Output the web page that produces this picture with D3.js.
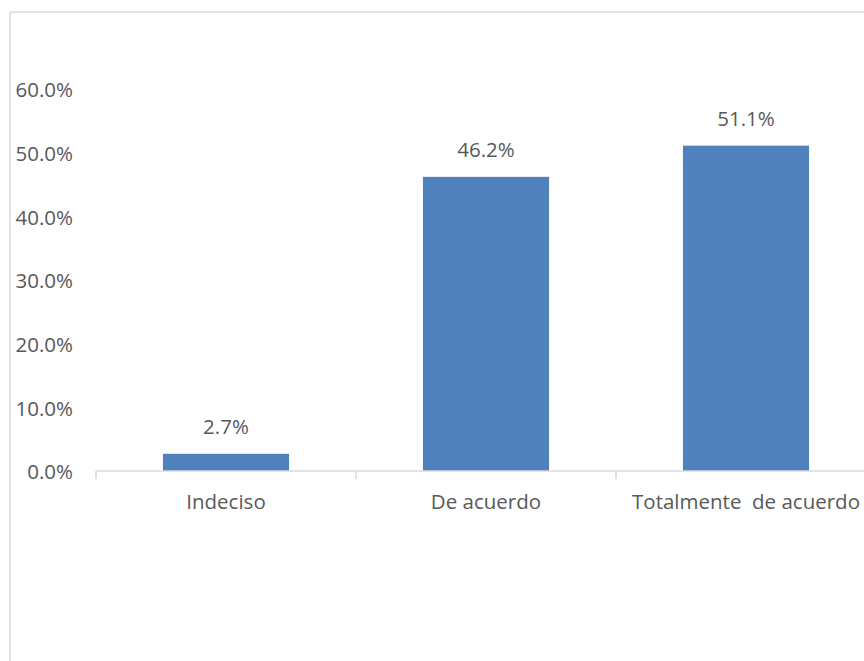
<!DOCTYPE html>
<html>
<head>
<meta charset="utf-8">
<script src="https://cdn.jsdelivr.net/npm/d3@7"></script>
<style>
  html, body { margin: 0; padding: 0; background: #ffffff; }
  svg { display: block; }
  text { font-family: "Open Sans", sans-serif; fill: #595959; white-space: pre; }
</style>
</head>
<body>
<svg id="chart" width="864" height="661"></svg>
<script>
const categories = ["Indeciso", "De acuerdo", "Totalmente  de acuerdo"];
const values = [0.027, 0.462, 0.511];
const valueLabels = ["2.7%", "46.2%", "51.1%"];
const yTicks = [0, 0.1, 0.2, 0.3, 0.4, 0.5, 0.6];

const svg = d3.select("#chart");
const W = 864, H = 661;
const FS = "20.5px";

// outer frame (only top and left visible)
svg.append("line").attr("x1", 10).attr("x2", W).attr("y1", 12).attr("y2", 12)
  .attr("stroke", "#d9d9d9").attr("stroke-width", 1.5);
svg.append("line").attr("x1", 10).attr("x2", 10).attr("y1", 12).attr("y2", H)
  .attr("stroke", "#d9d9d9").attr("stroke-width", 1.5);

const x = d3.scaleBand().domain(categories).range([96, 876]).paddingInner(0.515).paddingOuter(0.2575);
const y = d3.scaleLinear().domain([0, 0.6]).range([471, 89]);

// bars
svg.append("g").selectAll("rect").data(values).join("rect")
  .attr("x", (d, i) => x(categories[i]))
  .attr("width", x.bandwidth())
  .attr("y", d => y(d))
  .attr("height", d => y(0) - y(d))
  .attr("fill", "#4f81bd");

// x axis
const xAxis = svg.append("g").attr("transform", `translate(0,${y(0)})`);
xAxis.append("line").attr("x1", 96).attr("x2", W).attr("stroke", "#d9d9d9").attr("stroke-width", 1.5);
const step = x.step();
const tickXs = [0, 1, 2, 3].map(i => 96 + i * step);
xAxis.selectAll("line.tick").data(tickXs).join("line").attr("class", "tick")
  .attr("x1", d => d).attr("x2", d => d).attr("y1", 0).attr("y2", 8)
  .attr("stroke", "#d9d9d9").attr("stroke-width", 1.5);
xAxis.selectAll("text").data(categories).join("text")
  .attr("x", d => x(d) + x.bandwidth() / 2)
  .attr("y", 31)
  .attr("dy", "0.35em")
  .attr("text-anchor", "middle")
  .attr("xml:space", "preserve")
  .style("font-size", FS)
  .text(d => d);

// y axis labels
svg.append("g").selectAll("text").data(yTicks).join("text")
  .attr("x", 73)
  .attr("y", d => y(d) + 1)
  .attr("dy", "0.35em")
  .attr("text-anchor", "end")
  .style("font-size", FS)
  .text(d => d3.format(".1%")(d));

// value labels
svg.append("g").selectAll("text").data(values).join("text")
  .attr("x", (d, i) => x(categories[i]) + x.bandwidth() / 2)
  .attr("y", d => y(d) - 27)
  .attr("dy", "0.35em")
  .attr("text-anchor", "middle")
  .style("font-size", FS)
  .text((d, i) => valueLabels[i]);
</script>
</body>
</html>
